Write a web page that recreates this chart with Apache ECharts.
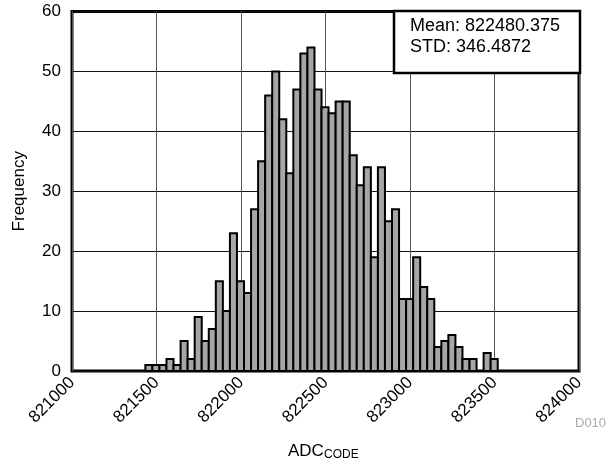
<!DOCTYPE html>
<html>
<head>
<meta charset="utf-8">
<script src="https://cdn.jsdelivr.net/npm/echarts@6/dist/echarts.min.js"></script>
<style>html,body{margin:0;padding:0;background:#fff;}#c{width:608px;height:465px;}</style>
</head>
<body>
<div id="c"></div>
<script>
// Histogram bins: first bin start and width (ADC codes), then counts per bin
const binStart = 821434;
const binWidth = 41.7;
const counts = [1,1,1,2,1,5,2,9,5,7,15,10,23,15,13,27,35,46,50,42,33,47,53,54,47,44,43,45,45,36,31,34,19,34,25,27,12,12,19,14,12,4,5,6,4,2,2,0,3,2];
const xTicks = [821000, 821500, 822000, 822500, 823000, 823500, 824000];
const yTicks = [0, 10, 20, 30, 40, 50, 60];
const statLines = ['Mean: 822480.375', 'STD: 346.4872'];

const FONT = "'Liberation Sans', Arial, sans-serif";
const data = counts.map((c, i) => [binStart + i * binWidth, binStart + (i + 1) * binWidth, c]);

const chart = echarts.init(document.getElementById('c'), null, {renderer: 'canvas'});
chart.setOption({
  animation: false,
  backgroundColor: '#fff',
  grid: {left: 72, right: 29, top: 11.5, bottom: 94, outerBoundsMode: 'none', containLabel: false,
    show: true, borderColor: '#000', borderWidth: 3, backgroundColor: 'transparent'},
  xAxis: {
    type: 'value', min: xTicks[0], max: xTicks[xTicks.length - 1], interval: 500,
    axisLine: {show: false}, axisTick: {show: false},
    splitLine: {show: true, lineStyle: {color: '#555', width: 1}},
    axisLabel: {rotate: 45, margin: 9, fontSize: 17, color: '#000', fontFamily: FONT,
      formatter: v => String(v)},
    name: '', nameMoveOverlap: false
  },
  yAxis: {
    type: 'value', min: yTicks[0], max: yTicks[yTicks.length - 1], interval: 10,
    axisLine: {show: false}, axisTick: {show: false},
    splitLine: {show: true, lineStyle: {color: '#111', width: 1}},
    axisLabel: {margin: 11, fontSize: 17, color: '#000', fontFamily: FONT},
    name: 'Frequency', nameLocation: 'middle', nameGap: 44, nameMoveOverlap: false,
    nameTextStyle: {fontSize: 17, color: '#000', fontFamily: FONT}
  },
  series: [{
    type: 'custom',
    data: data,
    encode: {x: [0, 1], y: 2},
    renderItem: function (params, api) {
      const p0 = api.coord([api.value(0), 0]);
      const p1 = api.coord([api.value(1), api.value(2)]);
      return {
        type: 'rect',
        shape: {x: p0[0], y: p1[1], width: p1[0] - p0[0], height: p0[1] - p1[1]},
        style: {fill: '#a6a6a6', stroke: '#000', lineWidth: 2}
      };
    }
  }],
  graphic: [
    {type: 'rect', z: 100, shape: {x: 394, y: 11, width: 186, height: 62}, style: {fill: '#fff', stroke: '#000', lineWidth: 2.5}},
    {type: 'text', z: 101, x: 410, y: 16, style: {text: statLines.join('\n'), fontSize: 18, lineHeight: 21, fontFamily: FONT, fill: '#000'}},
    {type: 'text', z: 101, x: 575, y: 417, style: {text: 'D010', fontSize: 13, fontFamily: FONT, fill: '#aaa'}},
    {type: 'text', z: 101, x: 288, y: 451, style: {text: 'ADC', fontSize: 17, fontFamily: FONT, fill: '#000', verticalAlign: 'middle'}},
    {type: 'text', z: 101, x: 324, y: 455, style: {text: 'CODE', fontSize: 12, fontFamily: FONT, fill: '#000', verticalAlign: 'middle'}}
  ]
});
</script>
</body>
</html>
